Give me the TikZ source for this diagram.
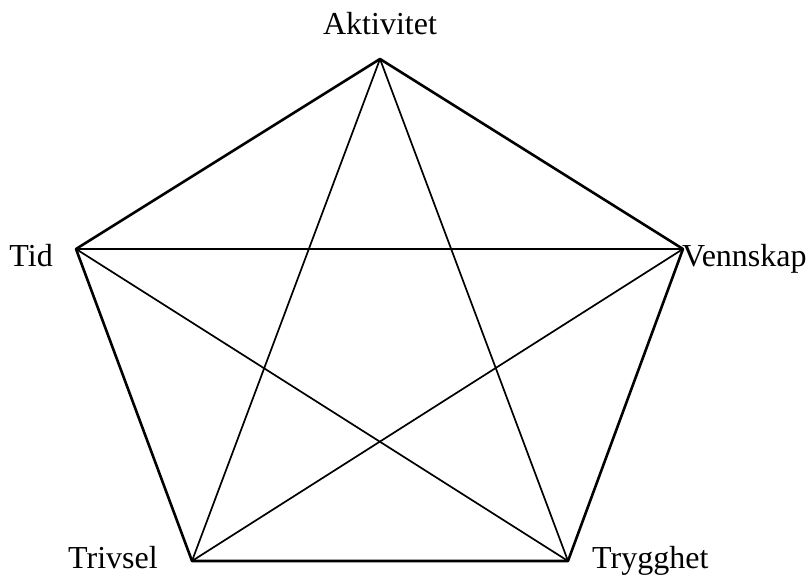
\documentclass[tikz,border=0pt]{standalone}
\usepackage{fontspec}
\setmainfont{Liberation Serif}
\usepackage{tikz}
\usetikzlibrary{positioning}
\tikzset{
  side/.style={line width=2.6pt,draw=black,line join=round},
  chord/.style={line width=1.7pt,draw=black},
  lbl/.style={inner sep=0pt,font=\fontsize{32}{34}\selectfont}
}

\begin{document}
\begin{tikzpicture}[x=1pt,y=1pt]
\useasboundingbox (0,0) rectangle (809,577);
% corners of the pentagon
\coordinate (akt) at (380,518);
\coordinate (tid) at (76,328);
\coordinate (ven) at (683,328);
\coordinate (tri) at (192,16);
\coordinate (try) at (568,16);
% outer sides
\draw[side] (akt) -- (ven) -- (try) -- (tri) -- (tid) -- cycle;
% star
\draw[chord] (akt) -- (tri);
\draw[chord] (akt) -- (try);
\draw[chord] (tid) -- (ven);
\draw[chord] (tid) -- (try);
\draw[chord] (ven) -- (tri);
% labels
\node[lbl,anchor=base] (laktivitet) at (380,542) {Aktivitet};
\node[lbl,anchor=base east] (ltid) at (53,310) {Tid};
\node[lbl,anchor=base west] (lvennskap) at (682,310) {Vennskap};
\node[lbl,anchor=base west] (ltrivsel) at (68,8) {Trivsel};
\node[lbl,anchor=base west] (ltrygghet) at (592,8) {Trygghet};
\end{tikzpicture}
\end{document}
